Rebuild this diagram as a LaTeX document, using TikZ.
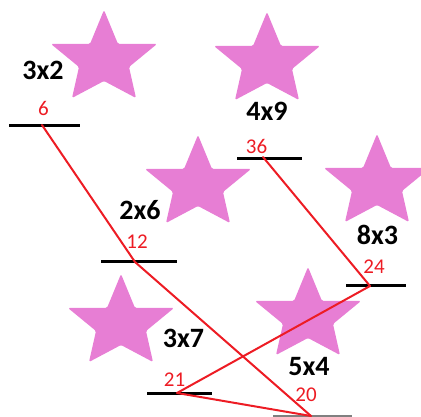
\documentclass[tikz,border=0pt]{standalone}
\usepackage{fontspec}
\setmainfont{Carlito}
\definecolor{starpink}{RGB}{231,126,212}
\definecolor{linered}{RGB}{237,28,36}
\tikzset{
  x=1pt, y=-1pt,
  mystar/.pic={\fill[starpink, rounded corners=1.5pt] (0,-2) -- (14,32) -- (53,32) -- (25,55) -- (32,86) -- (0,69) -- (-32,86) -- (-25,55) -- (-53,32) -- (-14,32) -- cycle;},
  fact/.style={anchor=base, inner sep=0pt, font=\fontsize{28}{30}\selectfont\bfseries, text=black},
  prod/.style={anchor=base, inner sep=0pt, font=\fontsize{21}{23}\selectfont, text=linered},
  bar/.style={draw=black, line width=3pt},
  zig/.style={draw=linered, line width=2pt, line join=round, line cap=round}
}
\begin{document}
\begin{tikzpicture}
\useasboundingbox (0,0) rectangle (421,417);
% stars
\pic at (104,12) {mystar};
\pic at (267,14) {mystar};
\pic at (198,137) {mystar};
\pic at (377,136) {mystar};
\pic at (121,276) {mystar};
\pic at (308,269) {mystar};
% bar ends
\coordinate (b6l) at (9,126);   \coordinate (b6r) at (80,126);
\coordinate (b36l) at (237,159); \coordinate (b36r) at (302,159);
\coordinate (b12l) at (101,262); \coordinate (b12r) at (177,262);
\coordinate (b24l) at (346,286); \coordinate (b24r) at (406,286);
\coordinate (b21l) at (147,393); \coordinate (b21r) at (212,393);
\coordinate (b20l) at (273,416); \coordinate (b20r) at (352,416);
\draw[bar] (b6l) -- (b6r);
\draw[bar] (b36l) -- (b36r);
\draw[bar] (b12l) -- (b12r);
\draw[bar] (b24l) -- (b24r);
\draw[bar] (b21l) -- (b21r);
\draw[draw=gray, line width=1.5pt] (b20l) -- (b20r);
% zigzag points
\coordinate (p6) at (42,125);
\coordinate (p12) at (135,262);
\coordinate (p36) at (263,157);
\coordinate (p24) at (370,286);
\coordinate (p21) at (177,393);
\coordinate (p20) at (311,416);
\draw[zig] (p6) -- (p12) -- (p20);
\draw[zig] (p36) -- (p24) -- (p21) -- (p20);
% factor labels
\node[fact] (f32) at (43,80) {3x2};
\node[fact] (f49) at (267,121) {4x9};
\node[fact] (f26) at (140,220) {2x6};
\node[fact] (f83) at (377.5,245) {8x3};
\node[fact] (f37) at (183.5,348) {3x7};
\node[fact] (f54) at (309,375) {5x4};
% products
\node[prod] (n6) at (43.5,116) {6};
\node[prod] (n36) at (256.5,154) {36};
\node[prod] (n12) at (137,249) {12};
\node[prod] (n24) at (374,274) {24};
\node[prod] (n21) at (174.5,386) {21};
\node[prod] (n20) at (306,401) {20};
\end{tikzpicture}
\end{document}
